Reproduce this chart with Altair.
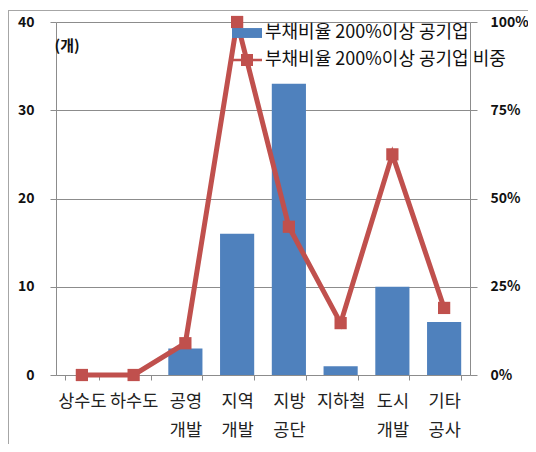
import altair as alt
import pandas as pd

categories = ["상수도", "하수도", "공영\n개발", "지역\n개발", "지방\n공단", "지하철", "도시\n개발", "기타\n공사"]
counts = [0, 0, 3, 16, 33, 1, 10, 6]
shares = [0.0, 0.0, 0.09, 1.0, 0.42, 0.147, 0.625, 0.19]
series = ["부채비율 200%이상 공기업", "부채비율 200%이상 공기업 비중"]
left_ticks = [0, 10, 20, 30, 40]
right_ticks = [0, 0.25, 0.5, 0.75, 1.0]

df = pd.DataFrame({"cat": categories, "count": counts, "share": shares})
leg = pd.DataFrame({"series": series})

FONT = "Noto Sans CJK KR"
BLUE = "#4F81BD"
RED = "#C0504D"
GRID = "#8C8C8C"

rect_path = "M-1,-0.33H1V0.33H-1Z"
line_path = "M-1,-0.09H1V0.09H-1Z M-0.4,-0.4H0.4V0.4H-0.4Z"

x_axis = alt.Axis(labelAngle=0, labelExpr="split(datum.label, '\\n')", labelFont=FONT,
                  labelFontSize=17.5, labelColor="#222", labelLineHeight=29, labelPadding=12,
                  labelBaseline="top", tickBand="extent", tickSize=5, tickColor=GRID,
                  domainColor=GRID, grid=False, title=None)
x_enc = alt.X("cat:N", sort=categories, title=None,
              scale=alt.Scale(paddingInner=0.34, paddingOuter=0.17), axis=x_axis)

bars = alt.Chart(df).mark_bar(color=BLUE).encode(
    x=x_enc,
    y=alt.Y("count:Q", scale=alt.Scale(domain=[0, 40], nice=False),
            axis=alt.Axis(values=left_ticks, grid=True, gridColor=GRID, domainColor=GRID,
                          tickColor=GRID, tickSize=6, labelPadding=16, labelFont=FONT,
                          labelFontSize=14, labelFontWeight="bold", labelColor="#111",
                          labelFlush=False, title="(개)", titleAngle=0, titleX=-2, titleY=23,
                          titleAlign="left", titleBaseline="middle", titleFont=FONT,
                          titleFontSize=15, titleFontWeight="bold", titleColor="#111")),
)

line = alt.Chart(df).mark_line(
    color=RED, strokeWidth=5,
    point=alt.OverlayMarkDef(shape="square", size=150, filled=True, color=RED, opacity=1),
).encode(
    x=x_enc,
    y=alt.Y("share:Q", scale=alt.Scale(domain=[0, 1], nice=False),
            axis=alt.Axis(orient="right", values=right_ticks, format=".0%", grid=False,
                          domainColor=GRID, tickColor=GRID, tickSize=7, labelPadding=13,
                          labelFont=FONT, labelFontSize=14, labelFontWeight="bold",
                          labelColor="#111", labelFlush=False, title=None)),
)

legend_props = dict(title=None, orient="none", legendX=176, legendY=-4,
                    symbolSize=900, symbolStrokeWidth=0, symbolOpacity=1,
                    labelFont=FONT, labelFontSize=18, labelColor="#111",
                    labelOffset=3, rowPadding=3, padding=0, labelLimit=400)

legend_layer = alt.Chart(leg).transform_filter("false").mark_point(filled=True).encode(
    color=alt.Color("series:N", scale=alt.Scale(domain=series, range=[BLUE, RED]),
                    legend=alt.Legend(**legend_props)),
    shape=alt.Shape("series:N", scale=alt.Scale(domain=series, range=[rect_path, line_path]),
                    legend=alt.Legend(**legend_props)),
)

frame_base = alt.Chart(alt.Data(values=[{"k": 1}])).mark_rule(color="#A6A6A6", strokeWidth=1)
frame_top = frame_base.encode(x=alt.value(-48), x2=alt.value(472), y=alt.value(-11.5))
frame_left = frame_base.encode(x=alt.value(-47.5), y=alt.value(-12), y2=alt.value(422))

chart = alt.layer(bars, line, legend_layer, frame_top, frame_left).resolve_scale(
    y="independent"
).properties(
    width=414, height=353,
    autosize=alt.AutoSizeParams(type="none"),
    padding={"left": 48, "top": 14, "right": 58, "bottom": 69},
).configure_view(stroke=None)

chart.save("out.html", embed_options={"renderer": "svg", "actions": False})
